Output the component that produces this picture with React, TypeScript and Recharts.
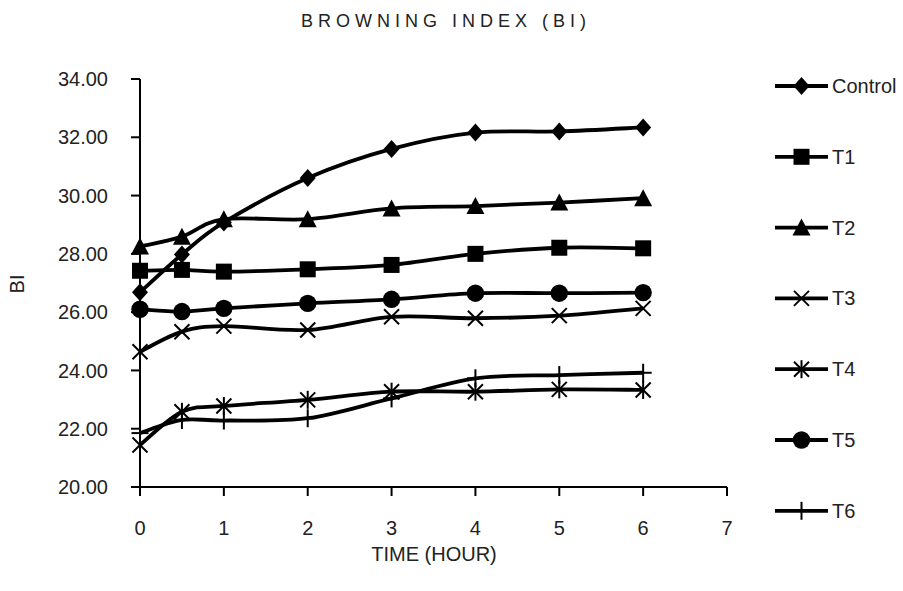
import React from 'react';
import { LineChart, Line, XAxis, YAxis } from 'recharts';

if (typeof document !== 'undefined') {
  document.body.style.margin = '0';
}

const hours = [0, 0.5, 1, 2, 3, 4, 5, 6];
const controlValues = [26.68, 27.98, 29.08, 30.6, 31.6, 32.16, 32.2, 32.34];
const t1Values = [27.42, 27.45, 27.39, 27.47, 27.62, 28.0, 28.21, 28.19];
const t2Values = [28.25, 28.59, 29.19, 29.19, 29.56, 29.64, 29.76, 29.91];
const t3Values = [24.64, 25.33, 25.52, 25.39, 25.84, 25.79, 25.88, 26.13];
const t4Values = [21.44, 22.58, 22.78, 22.99, 23.27, 23.27, 23.35, 23.33];
const t5Values = [26.1, 26.02, 26.13, 26.3, 26.44, 26.65, 26.65, 26.67];
const t6Values = [21.85, 22.3, 22.28, 22.36, 23.04, 23.73, 23.84, 23.92];

const seriesNames = ['Control', 'T1', 'T2', 'T3', 'T4', 'T5', 'T6'];
const seriesValues = [controlValues, t1Values, t2Values, t3Values, t4Values, t5Values, t6Values];
const markerKinds = ['diamond', 'square', 'triangle', 'x', 'asterisk', 'circle', 'plus'];

const xTicks = [0, 1, 2, 3, 4, 5, 6, 7];
const yTicks = [20, 22, 24, 26, 28, 30, 32, 34];

const chartTitle = 'BROWNING INDEX (BI)';
const xTitle = 'TIME (HOUR)';
const yTitle = 'BI';

const data = hours.map((h, i) => {
  const row: Record<string, number> = { hour: h };
  seriesNames.forEach((n, s) => {
    row[n] = seriesValues[s][i];
  });
  return row;
});

// Excel-like smoothed line (cardinal spline, tension 0)
function excelCurve(context: any) {
  let pts: number[][] = [];
  return {
    areaStart() {},
    areaEnd() {},
    lineStart() {
      pts = [];
    },
    point(x: number, y: number) {
      pts.push([+x, +y]);
    },
    lineEnd() {
      const n = pts.length;
      if (!n) return;
      context.moveTo(pts[0][0], pts[0][1]);
      if (n === 1) return;
      for (let i = 0; i < n - 1; i++) {
        const p0 = pts[i - 1] || pts[i];
        const p1 = pts[i];
        const p2 = pts[i + 1];
        const p3 = pts[i + 2] || pts[i + 1];
        const c1x = p1[0] + (p2[0] - p0[0]) / 6;
        const c1y = p1[1] + (p2[1] - p0[1]) / 6;
        const c2x = p2[0] - (p3[0] - p1[0]) / 6;
        const c2y = p2[1] - (p3[1] - p1[1]) / 6;
        context.bezierCurveTo(c1x, c1y, c2x, c2y, p2[0], p2[1]);
      }
    },
  };
}

function Marker({ kind, cx, cy }: { kind: string; cx: number; cy: number }) {
  const c = '#000';
  switch (kind) {
    case 'diamond':
      return (
        <polygon
          points={`${cx},${cy - 9} ${cx + 8},${cy} ${cx},${cy + 9} ${cx - 8},${cy}`}
          fill={c}
        />
      );
    case 'square':
      return <rect x={cx - 8} y={cy - 8} width={16} height={16} fill={c} />;
    case 'triangle':
      return (
        <polygon points={`${cx},${cy - 9} ${cx + 9},${cy + 8} ${cx - 9},${cy + 8}`} fill={c} />
      );
    case 'x':
      return (
        <g stroke={c} strokeWidth={2}>
          <line x1={cx - 7.5} y1={cy - 7.5} x2={cx + 7.5} y2={cy + 7.5} />
          <line x1={cx - 7.5} y1={cy + 7.5} x2={cx + 7.5} y2={cy - 7.5} />
        </g>
      );
    case 'asterisk':
      return (
        <g stroke={c} strokeWidth={2}>
          <line x1={cx - 7.5} y1={cy - 7.5} x2={cx + 7.5} y2={cy + 7.5} />
          <line x1={cx - 7.5} y1={cy + 7.5} x2={cx + 7.5} y2={cy - 7.5} />
          <line x1={cx} y1={cy - 9} x2={cx} y2={cy + 9} />
        </g>
      );
    case 'circle':
      return <circle cx={cx} cy={cy} r={8.7} fill={c} />;
    case 'plus':
    default:
      return (
        <g stroke={c} strokeWidth={2}>
          <line x1={cx} y1={cy - 9} x2={cx} y2={cy + 9} />
          <line x1={cx - 8.5} y1={cy} x2={cx + 8.5} y2={cy} />
        </g>
      );
  }
}

const FONT = '"Liberation Sans", Arial, sans-serif';
const W = 903;
const H = 591;

export default function App() {
  const legendTop = 86;
  const legendStep = 70.8;
  return (
    <div style={{ position: 'relative', width: W, height: H, background: '#fff', fontFamily: FONT }}>
      <LineChart
        width={W}
        height={H}
        data={data}
        margin={{ top: 79, right: 176, bottom: 44, left: 40 }}
      >
        <XAxis
          dataKey="hour"
          type="number"
          domain={[0, 7]}
          ticks={xTicks}
          interval={0}
          height={60}
          tickSize={9}
          tickMargin={25}
          axisLine={{ stroke: '#000', strokeWidth: 2 }}
          tickLine={{ stroke: '#000', strokeWidth: 2 }}
          tick={{ fill: '#222', fontSize: 20, fontFamily: FONT }}
        />
        <YAxis
          type="number"
          domain={[20, 34]}
          ticks={yTicks}
          interval={0}
          width={100}
          tickSize={9}
          tickMargin={23}
          tickFormatter={(v: number) => v.toFixed(2)}
          axisLine={{ stroke: '#000', strokeWidth: 2 }}
          tickLine={{ stroke: '#000', strokeWidth: 2 }}
          tick={{ fill: '#222', fontSize: 20, fontFamily: FONT }}
        />
        {seriesNames.map((name, s) => (
          <Line
            key={name}
            dataKey={name}
            type={excelCurve as any}
            stroke="#000"
            strokeWidth={3.8}
            isAnimationActive={false}
            activeDot={false}
            dot={(p: any) => (
              <g key={`${name}-${p.index}`}>
                <Marker kind={markerKinds[s]} cx={p.cx} cy={p.cy} />
              </g>
            )}
          />
        ))}
      </LineChart>
      <svg
        width={W}
        height={H}
        style={{ position: 'absolute', left: 0, top: 0, pointerEvents: 'none' }}
      >
        <text
          x={443.5 + 2.5}
          y={21}
          textAnchor="middle"
          dominantBaseline="central"
          fontSize={18}
          letterSpacing={5}
          fill="#222"
          fontFamily={FONT}
        >
          {chartTitle}
        </text>
        <text
          x={434}
          y={554}
          textAnchor="middle"
          dominantBaseline="central"
          fontSize={20}
          fill="#222"
          fontFamily={FONT}
        >
          {xTitle}
        </text>
        <text
          x={17}
          y={284}
          textAnchor="middle"
          dominantBaseline="central"
          fontSize={20}
          fill="#222"
          fontFamily={FONT}
          transform="rotate(-90, 17, 284)"
        >
          {yTitle}
        </text>
        {seriesNames.map((name, s) => {
          const y = legendTop + s * legendStep;
          return (
            <g key={name}>
              <line x1={775} y1={y} x2={828} y2={y} stroke="#000" strokeWidth={3.8} />
              <Marker kind={markerKinds[s]} cx={801.5} cy={y} />
              <text x={832} y={y} dominantBaseline="central" fontSize={20} fill="#222" fontFamily={FONT}>
                {name}
              </text>
            </g>
          );
        })}
      </svg>
    </div>
  );
}
